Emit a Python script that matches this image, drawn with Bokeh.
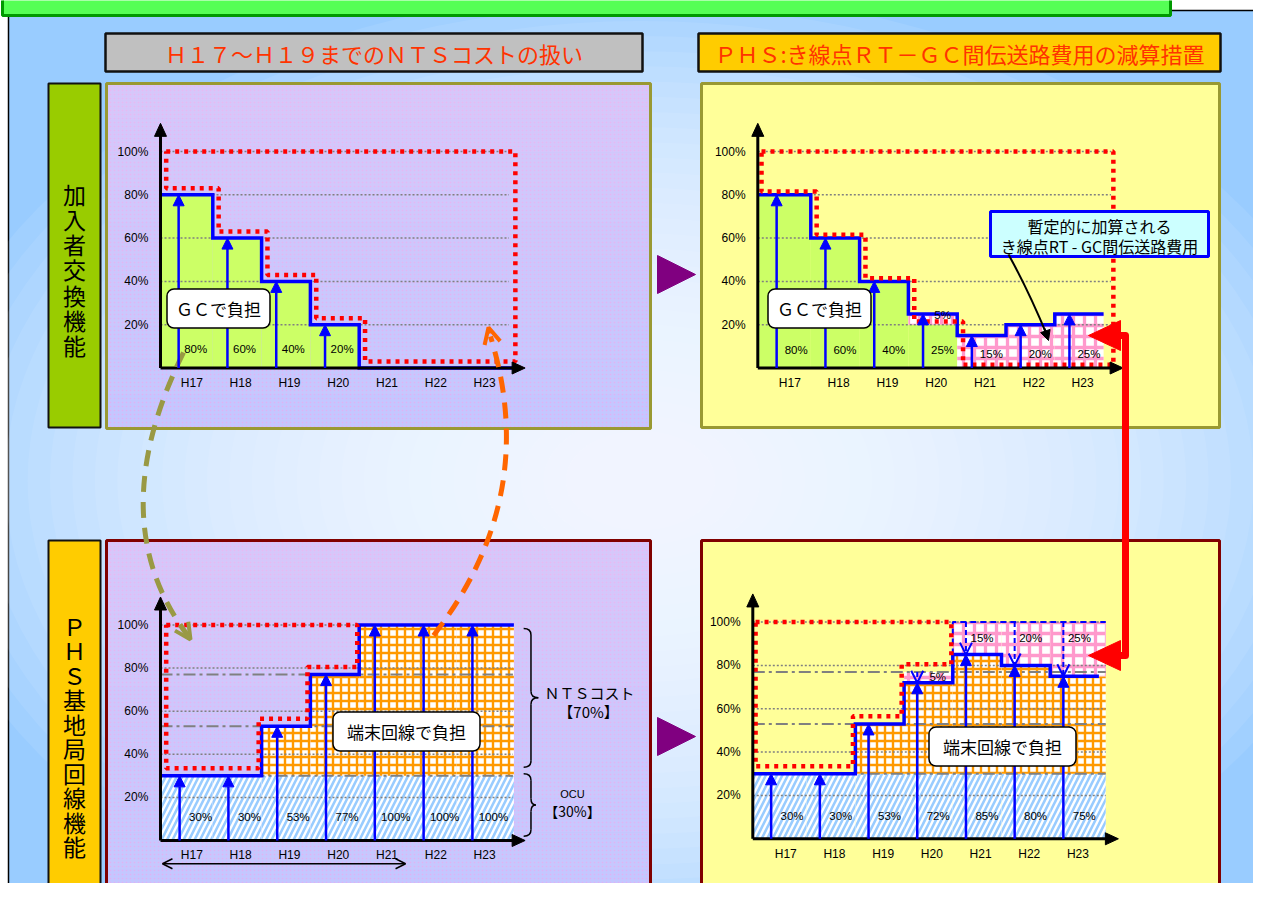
from bokeh.plotting import figure
from bokeh.models import Range1d, ColumnDataSource, Arrow, NormalHead, OpenHead, Label
from bokeh.embed import file_html
from bokeh.resources import INLINE
from bokeh.core.properties import value

# ---------------- data ----------------
years = ["H17", "H18", "H19", "H20", "H21", "H22", "H23"]
y_ticks = [20, 40, 60, 80, 100]
gc_share = [80, 60, 40, 20, 0, 0, 0]            # 加入者交換機能: GCで負担
rt_gc_added = [0, 0, 0, 5, 15, 20, 25]          # 暫定的に加算される き線点RT-GC間伝送路費用
phs_line_orig = [30, 30, 53, 77, 100, 100, 100]  # PHS基地局回線: 端末回線で負担 (H17~H19の扱い)
phs_line_new = [30, 30, 53, 72, 85, 80, 75]      # 減算措置後
ocu_share = 30
nts_share = 70
dash_levels = [30, 53, 77]

header_left = "Ｈ１７～Ｈ１９までのＮＴＳコストの扱い"
header_right = "ＰＨＳ:き線点ＲＴ－ＧＣ間伝送路費用の減算措置"
side_top = "加入者交換機能"
side_bottom = "ＰＨＳ基地局回線機能"
box_gc = "ＧＣで負担"
box_line = "端末回線で負担"
callout_lines = ["暫定的に加算される", "き線点RT - GC間伝送路費用"]
nts_label = "ＮＴＳコスト"
ocu_label = "OCU"

JP = "Noto Sans CJK JP"
LAT = "Liberation Sans"
BLUE = "#0000FF"
RED = "#FF0000"

# ---------------- figure ----------------
W, H = 1253, 883
p = figure(width=W, height=H, x_range=Range1d(0, W), y_range=Range1d(H, 0),
           output_backend="svg", toolbar_location=None, x_axis_type=None, y_axis_type=None,
           min_border=0)
p.outline_line_color = None
p.background_fill_color = "white"
p.border_fill_color = "white"

# chart geometry (pixel origin / pixel per unit)
G = {
    "tl": dict(ox=163.5, ux=48.8, oy=367.5, uy=2.165, ax=160.0),
    "tr": dict(ox=761.5, ux=48.8, oy=367.5, uy=2.165, ax=757.3),
    "bl": dict(ox=163.5, ux=48.8, oy=840.0, uy=2.155, ax=160.0),
    "br": dict(ox=757.5, ux=48.7, oy=838.3, uy=2.167, ax=752.3),
}
for k, g in G.items():
    p.extra_x_ranges[k] = Range1d((0 - g["ox"]) / g["ux"], (W - g["ox"]) / g["ux"])
    p.extra_y_ranges[k] = Range1d((g["oy"] - H) / g["uy"], (g["oy"] - 0) / g["uy"])
    g["axx"] = (g["ax"] - g["ox"]) / g["ux"]


def R(name):
    return {} if name is None else dict(x_range_name=name, y_range_name=name)


def txt(name, xs, ys, texts, size="12px", font=LAT, align="center", color="black"):
    p.text(x=xs, y=ys, text=texts, text_align=align, text_baseline="middle",
           text_font=value(font), text_font_size=size, text_color=color, **R(name))


pink_kw = dict(fill_color="white", hatch_pattern="+", hatch_color="#FF99CC", hatch_weight=3.3,
               hatch_scale=11, line_color=None)
orange_kw = dict(fill_color="white", hatch_pattern="+", hatch_color="#FF9900", hatch_weight=2.4,
                 hatch_scale=8, line_color=None)
stripe_kw = dict(fill_color="white", hatch_pattern="/", hatch_color="#99CCFF", hatch_weight=2.6,
                 hatch_scale=11, line_color=None)

# ---------------- page background ----------------
p.quad(left=[8], right=[1267], top=[10], bottom=[905], fill_color="#99CCFF", line_color="black", line_width=1.5)
n_glow = 30
gw = [1450 - k * 1300 / (n_glow - 1) for k in range(n_glow)]
gh = [980 - k * 880 / (n_glow - 1) for k in range(n_glow)]
p.ellipse(x=[640] * n_glow, y=[480] * n_glow, width=gw, height=gh, fill_color="white", fill_alpha=0.08, line_color=None)
p.quad(left=[2], right=[1170], top=[-5], bottom=[15], fill_color="#55FF55", line_color="#009900", line_width=3)

# headers
p.quad(left=[105, 698], right=[642, 1220], top=[33, 33], bottom=[71, 71],
       fill_color=["#C0C0C0", "#FFCC00"], line_color="#111111", line_width=2.5)
txt(None, [373.5, 959], [52, 52], [header_left, header_right], size="22px", font=JP, color="#FF3300")

# side labels
p.quad(left=[48, 48], right=[100, 100], top=[83, 540], bottom=[427, 905],
       fill_color=["#99CC00", "#FFCC00"], line_color="#111111", line_width=2)
txt(None, [74] * len(side_top), [193 + 25.3 * k for k in range(len(side_top))], list(side_top), size="23px", font=JP)
txt(None, [74] * len(side_bottom), [625 + 24.5 * k for k in range(len(side_bottom))], list(side_bottom), size="23px", font=JP)

# panels
lav = [(106, 650, 83, 428), (106, 650, 540, 905)]
for (l, r, t, b) in lav:
    p.quad(left=[l], right=[r], top=[t], bottom=[b], fill_color="#C2C8FF", hatch_pattern=".",
           hatch_color="#F2A0EA", hatch_scale=4, hatch_alpha=0.5, line_color=None)
    nb = 10
    hb = (b - t) / nb
    p.quad(left=[l] * nb, right=[r] * nb, top=[t + hb * k for k in range(nb)], bottom=[t + hb * (k + 1) for k in range(nb)],
           fill_color="#FFC8F0", fill_alpha=[0.32 * (1 - k / nb) for k in range(nb)], line_color=None)
p.quad(left=[106, 106], right=[650, 650], top=[83, 540], bottom=[428, 905], fill_color=None,
       line_color=["#999933", "#800000"], line_width=3)
p.quad(left=[701, 701], right=[1219, 1219], top=[83, 540], bottom=[427, 905], fill_color="#FFFF99",
       line_color=["#999933", "#800000"], line_width=3)

# purple arrows between panels
p.patches(xs=[[657, 657, 695], [657, 657, 695]], ys=[[255, 293, 274], [717, 755, 736]], color="#800080")


# ---------------- chart helpers ----------------
def grid(name, xend):
    axx = G[name]["axx"]
    p.multi_line(xs=[[axx, xend]] * len(y_ticks), ys=[[t, t] for t in y_ticks], line_color="#808080",
                 line_width=1.5, line_dash="2 2", **R(name))


def axes(name):
    g = G[name]
    axx, ux, uy = g["axx"], g["ux"], g["uy"]
    ytop, xr = 113, 7.4
    p.line([axx, axx], [0, ytop - 10 / uy], line_color="black", line_width=3, **R(name))
    p.line([axx, xr - 10 / ux], [0, 0], line_color="black", line_width=3, **R(name))
    p.patch([axx - 6 / ux, axx + 6 / ux, axx], [ytop - 13 / uy, ytop - 13 / uy, ytop], color="black", **R(name))
    p.patch([xr - 13 / ux, xr - 13 / ux, xr], [6 / uy, -6 / uy, 0], color="black", **R(name))
    txt(name, [axx - 0.25] * len(y_ticks), y_ticks, [f"{t}%" for t in y_ticks], align="right")
    txt(name, [i + 0.57 for i in range(len(years))], [-6.8] * len(years), years)


def step(name, vals, x_right, **kw):
    xs = [G[name]["axx"]] + list(range(1, len(vals))) + [x_right]
    ys = list(vals) + [vals[-1]]
    p.step(x=xs, y=ys, mode="after", line_color=BLUE, line_width=3.5, line_join="miter", **R(name), **kw)


def cols(name, bottoms, tops, x_right, style):
    L, Rr, B, T = [], [], [], []
    n = len(tops)
    for i in range(n):
        if tops[i] > bottoms[i]:
            L.append(G[name]["axx"] if i == 0 else i)
            Rr.append(x_right if i == n - 1 else i + 1)
            B.append(bottoms[i])
            T.append(tops[i])
    p.quad(left=L, right=Rr, bottom=B, top=T, **style, **R(name))


def red_outline(name, vals, x_left, x_right, dx, off):
    n = len(vals)
    xs = [x_left, x_right, x_right]
    ys = [100, 100, vals[-1] + off]
    for i in range(n - 1, 0, -1):
        if vals[i] != vals[i - 1]:
            xs += [i + dx, i + dx]
            ys += [vals[i] + off, vals[i - 1] + off]
    xs += [x_left, x_left]
    ys += [vals[0] + off, 100]
    p.line(xs, ys, line_color=RED, line_width=4.5, line_dash="4 5", **R(name))


def up_arrows(name, dx, tops):
    idx = [i for i in range(len(tops)) if tops[i] > 0]
    src = ColumnDataSource(dict(x=[i + dx for i in idx], y0=[0] * len(idx), y1=[tops[i] for i in idx]))
    p.add_layout(Arrow(end=NormalHead(size=11, fill_color=BLUE, line_color=BLUE, line_width=1),
                       x_start="x", y_start="y0", x_end="x", y_end="y1", source=src,
                       line_color=BLUE, line_width=2.5, **R(name)))


# ---------------- top-left: 加入者交換機能 (H17~H19) ----------------
cols("tl", [0] * 7, gc_share, 7.15, dict(fill_color="#CCFF66", line_color=None))
grid("tl", 7.07)
step("tl", gc_share, 7.15)
red_outline("tl", gc_share, 0.045, 7.2, 0.12, 3)
axes("tl")
ii = [i for i in range(7) if gc_share[i] > 0]
txt("tl", [i + 0.65 for i in ii], [9] * len(ii), [f"{gc_share[i]}%" for i in ii], size="11.5px")

# ---------------- top-right: 減算措置 ----------------
tr_total = [a + b for a, b in zip(gc_share, rt_gc_added)]
cols("tr", [0] * 7, gc_share, 7.0, dict(fill_color="#CCFF66", line_color=None))
cols("tr", gc_share, tr_total, 7.0, pink_kw)
grid("tr", 7.15)
step("tr", tr_total, 7.0)
red_outline("tr", gc_share, -0.01, 7.2, 0.12, 1.5)
axes("tr")
txt("tr", [i + 0.7 for i in range(7)], [8.2 if gc_share[i] > 0 else 6.6 for i in range(7)],
    [f"{v}%" for v in tr_total], size="11.5px")
jj = [i for i in range(7) if gc_share[i] > 0 and rt_gc_added[i] > 0]
txt("tr", [i + 0.7 for i in jj], [gc_share[i] + rt_gc_added[i] / 2 + 1.8 for i in jj], [f"{rt_gc_added[i]}%" for i in jj], size="11.5px")

# callout
p.quad(left=[990], right=[1208], top=[211], bottom=[256], fill_color="#CCFFFF", line_color=BLUE, line_width=3)
txt(None, [1099, 1099], [225, 245], callout_lines, size="16px", font=JP)
p.quadratic(x0=[1008], y0=[254], x1=[1047], y1=[336], cx=[1028], cy=[290], line_color="black", line_width=2)
p.add_layout(Arrow(end=NormalHead(size=10, fill_color="black", line_color="black"), x_start=1044, y_start=328,
                   x_end=1048, y_end=340, line_color="black", line_width=2))

# ---------------- bottom-left: PHS基地局回線 (H17~H19) ----------------
n_red = sum(1 for v in phs_line_orig if v < 100)
cols("bl", [0] * 7, [ocu_share] * 7, 7.17, stripe_kw)
cols("bl", [ocu_share] * 7, phs_line_orig, 7.17, orange_kw)
grid("bl", 7.15)
p.multi_line(xs=[[G["bl"]["axx"], 7.15]] * len(dash_levels), ys=[[d, d] for d in dash_levels],
             line_color="#808080", line_width=2, line_dash="12 4 3 4", **R("bl"))
step("bl", phs_line_orig, 7.17)
red_outline("bl", phs_line_orig[:n_red], 0.045, n_red - 0.04, -0.06, 3.5)
axes("bl")
txt("bl", [i + 0.75 for i in range(7)], [10.8] * 7, [f"{v}%" for v in phs_line_orig], size="11.5px")


def brace(name, x0, xm, xt, ytop, ybot, r):
    ym = (ytop + ybot) / 2
    p.quadratic(x0=[x0, xm, xt, xm], y0=[ytop, ym + r, ym, ybot + r],
                x1=[xm, xt, xm, x0], y1=[ytop - r, ym, ym - r, ybot],
                cx=[xm, xm, xm, xm], cy=[ytop, ym, ym, ybot], line_color="black", line_width=1.5, **R(name))
    p.segment(x0=[xm, xm], y0=[ytop - r, ym - r], x1=[xm, xm], y1=[ym + r, ybot + r],
              line_color="black", line_width=1.5, **R(name))


brace("bl", 7.37, 7.52, 7.67, 100 - 1.6, ocu_share + 4, 3)
brace("bl", 7.37, 7.52, 7.62, ocu_share + 1, 2, 3)
txt("bl", [8.72, 8.7], [68.7, 60], [nts_label, f"【{nts_share}%】"], size="15px", font=JP)
txt("bl", [8.37], [21.8], [ocu_label], size="11px")
txt("bl", [8.37], [13.5], [f"【{ocu_share}%】"], size="14px", font=JP)
p.add_layout(Arrow(start=OpenHead(size=10, line_width=1.5), end=OpenHead(size=10, line_width=1.5),
                   x_start=G["bl"]["axx"] + 0.04, y_start=-10.8, x_end=4.95, y_end=-10.8, line_width=1.5, **R("bl")))

# ---------------- bottom-right: 減算措置 ----------------
cut = [o - n for o, n in zip(phs_line_orig, phs_line_new)]
cols("br", [0] * 7, [ocu_share] * 7, 7.14, stripe_kw)
cols("br", [ocu_share] * 7, phs_line_new, 7.14, orange_kw)
cols("br", phs_line_new, phs_line_orig, 7.14, pink_kw)
grid("br", 7.14)
p.multi_line(xs=[[G["br"]["axx"], 7.14]] * len(dash_levels), ys=[[d, d] for d in dash_levels],
             line_color="#808080", line_width=2, line_dash="12 4 3 4", **R("br"))
k4 = [i for i in range(7) if cut[i] > 0 and phs_line_orig[i] == 100]
p.line([k4[0], k4[0], 7.14], [phs_line_new[k4[0]], 100, 100], line_color=BLUE, line_width=2, line_dash="6 4", **R("br"))
step("br", phs_line_new, 7.0)
red_outline("br", phs_line_orig[:n_red], -0.05, n_red - 0.03, -0.05, 3.5)
axes("br")
txt("br", [i + 0.7 for i in range(7)], [10.75] * 7, [f"{v}%" for v in phs_line_new], size="11.5px")
kk = [i for i in range(7) if cut[i] > 0]
txt("br", [i + (0.6 if phs_line_orig[i] == 100 else 0.69) for i in kk],
    [92.5 if phs_line_orig[i] == 100 else (phs_line_new[i] + phs_line_orig[i]) / 2 for i in kk],
    [f"{cut[i]}%" for i in kk], size="11.5px")

# ---------------- connectors ----------------
p.quadratic(x0=[183], y0=[352], x1=[188], y1=[636], cx=[100], cy=[520], line_color="#999944", line_width=5, line_dash="16 10")
p.quadratic(x0=[433], y0=[635], x1=[490], y1=[336], cx=[540], cy=[497], line_color="#FF6600", line_width=5, line_dash="16 10")
p.line([1112, 1125, 1125, 1112], [335, 335, 655, 655], line_color=RED, line_width=7, line_join="round")
p.patches(xs=[[1088, 1120, 1120], [1088, 1120, 1120]], ys=[[335, 320, 350], [655, 640, 670]], color=RED)

# ---------------- annotations (arrows, label boxes) ----------------
up_arrows("tl", 0.3, gc_share)
up_arrows("tr", 0.3, tr_total)
up_arrows("bl", 0.32, phs_line_orig)
up_arrows("br", 0.27, phs_line_new)
src_dn = ColumnDataSource(dict(x=[i + 0.27 for i in kk], y0=[phs_line_orig[i] for i in kk], y1=[phs_line_new[i] for i in kk]))
p.add_layout(Arrow(end=OpenHead(size=12, line_color=BLUE, line_width=2), x_start="x", y_start="y0", x_end="x", y_end="y1",
                   source=src_dn, line_color=BLUE, line_width=2, line_dash="5 3", **R("br")))
p.add_layout(Arrow(end=OpenHead(size=16, line_color="#999944", line_width=4), x_start=186, y_start=633,
                   x_end=190, y_end=639, line_color="#999944", line_width=4))
p.add_layout(Arrow(end=OpenHead(size=16, line_color="#FF6600", line_width=4), x_start=489.5, y_start=333,
                   x_end=488, y_end=327, line_color="#FF6600", line_width=4))

for (cx, cy, t, pad) in [(218, 308, box_gc, 9), (819, 308, box_gc, 9), (406, 731, box_line, 14), (1002, 746, box_line, 14)]:
    p.add_layout(Label(x=cx, y=cy, text=t, text_align="center", text_baseline="middle", text_font=JP,
                       text_font_size="17px", text_color="black", background_fill_color="white",
                       border_line_color="black", border_line_width=1.5, border_radius=7,
                       padding=dict(left=pad, right=pad, top=7, bottom=7)))

open("out.html", "w").write(file_html(p, INLINE))
